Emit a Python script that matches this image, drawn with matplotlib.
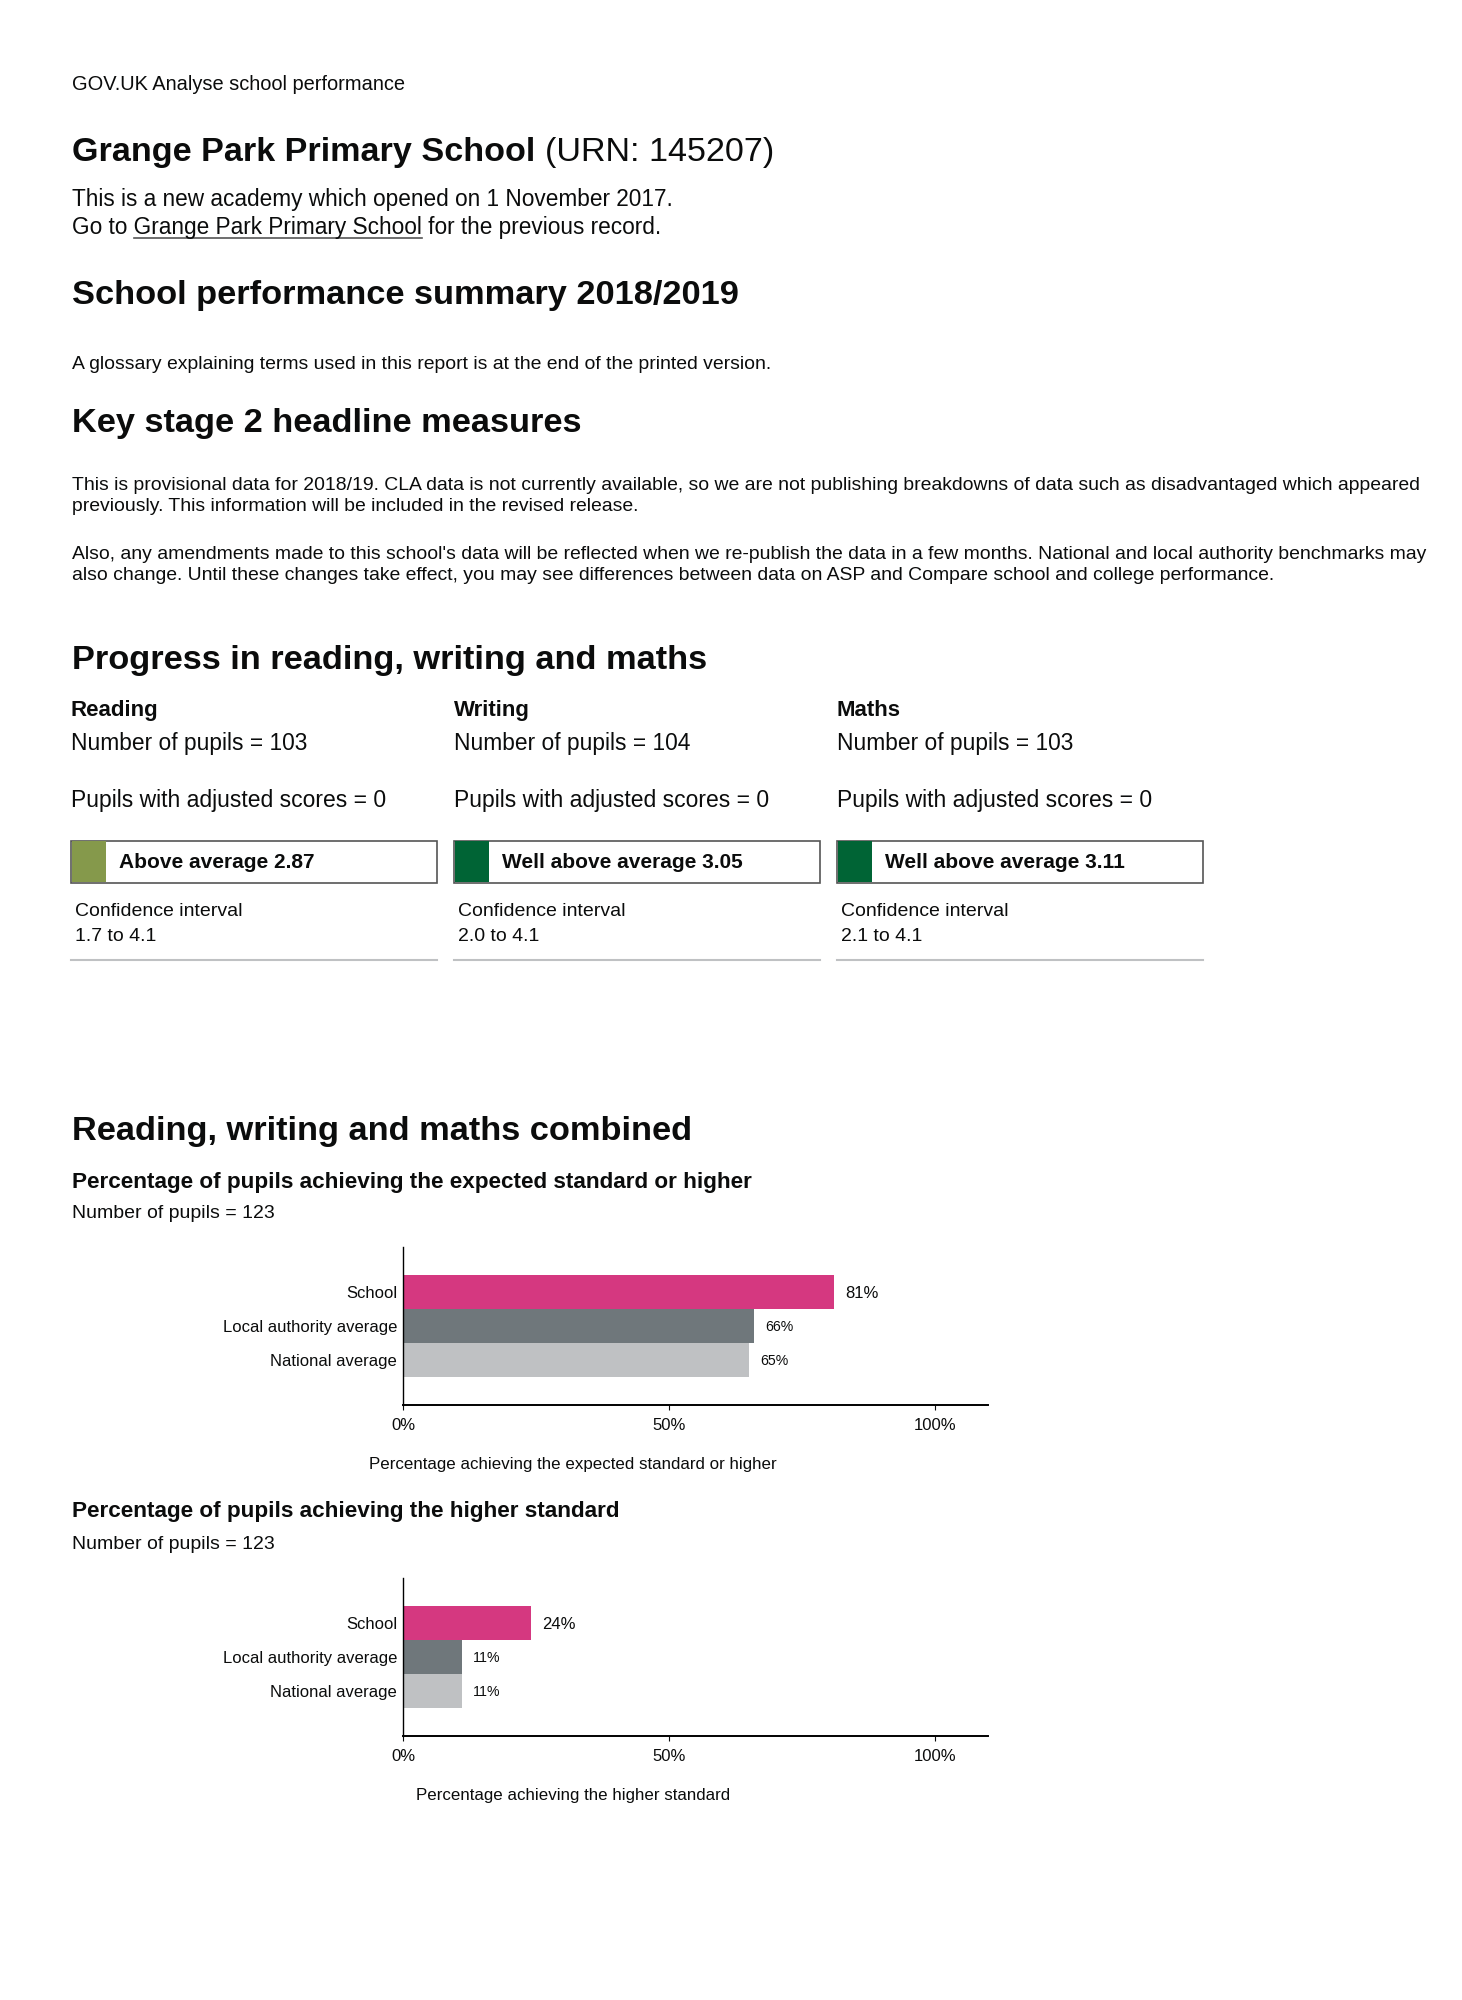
import matplotlib
matplotlib.use('Agg')
import matplotlib.pyplot as plt
from matplotlib.patches import Rectangle
from matplotlib.lines import Line2D

# --- data ---
school_name = 'Grange Park Primary School'
urn = 145207
subjects = ['Reading', 'Writing', 'Maths']
pupils = [103, 104, 103]
adjusted = [0, 0, 0]
bands = ['Above average', 'Well above average', 'Well above average']
scores = [2.87, 3.05, 3.11]
ci_low = [1.7, 2.0, 2.1]
ci_high = [4.1, 4.1, 4.1]
band_colours = {'Above average': '#85994b', 'Well above average': '#006435'}

groups = ['School', 'Local authority average', 'National average']
bar_colours = ['#d53880', '#6f777b', '#bfc1c3']
expected = [81, 66, 65]
higher = [24, 11, 11]
combined_pupils = 123

para1 = ['This is provisional data for 2018/19. CLA data is not currently available, so we are not publishing breakdowns of data such as disadvantaged which appeared',
         'previously. This information will be included in the revised release.']
para2 = ["Also, any amendments made to this school's data will be reflected when we re-publish the data in a few months. National and local authority benchmarks may",
         'also change. Until these changes take effect, you may see differences between data on ASP and Compare school and college performance.']

W, H = 1462, 2000
plt.rcParams['font.family'] = ['Liberation Sans', 'DejaVu Sans']
INK = '#0b0c0c'

fig = plt.figure(figsize=(W / 100, H / 100), dpi=100)
renderer = fig.canvas.get_renderer()


def txt(x, y, s, size, weight='normal', ha='left', color=INK):
    # x, y in pixels from top-left, y is the baseline
    return fig.text(x / W, 1 - y / H, s, fontsize=size, fontweight=weight,
                    ha=ha, va='baseline', color=color)


def text_width(s, size, weight='normal'):
    t = fig.text(0, 0, s, fontsize=size, fontweight=weight)
    w = t.get_window_extent(renderer).width
    t.remove()
    return w


def hline(x0, x1, y, color, lw):
    fig.lines.append(Line2D([x0 / W, x1 / W], [1 - y / H] * 2,
                            transform=fig.transFigure, color=color, lw=lw))


HEAD = 24.75
BODY = 13.92

# header
txt(72, 90, 'GOV.UK Analyse school performance', 14.4)
t = txt(72, 161, school_name, 24.6, 'bold')
x1 = t.get_window_extent(renderer).x1
txt(x1 + 0.278 * 24.6 * 100 / 72, 161, f'(URN: {urn})', 24.6)

txt(72, 206, 'This is a new academy which opened on 1 November 2017.', 16.25)
link_line = f'Go to {school_name} for the previous record.'
txt(72, 234, link_line, 16.25)
ux0 = 72 + text_width('Go to', 16.25) + 0.278 * 16.25 * 100 / 72
ux1 = 72 + text_width(f'Go to {school_name}', 16.25)
hline(ux0, ux1, 238, '#555555', 1.2)

txt(72, 304, 'School performance summary 2018/2019', HEAD, 'bold')
txt(72, 369, 'A glossary explaining terms used in this report is at the end of the printed version.', BODY)
txt(72, 432, 'Key stage 2 headline measures', HEAD, 'bold')
for k, line in enumerate(para1):
    txt(72, 490 + 21 * k, line, BODY)
for k, line in enumerate(para2):
    txt(72, 559 + 21 * k, line, BODY)

# progress section
txt(72, 669, 'Progress in reading, writing and maths', HEAD, 'bold')
col_x = [71, 454, 837]
box_w = 366
for i in range(len(subjects)):
    x = col_x[i]
    txt(x, 716, subjects[i], 16, 'bold')
    txt(x, 750, f'Number of pupils = {pupils[i]}', 16.4)
    txt(x, 807, f'Pupils with adjusted scores = {adjusted[i]}', 16.5)
    fig.patches.append(Rectangle((x / W, 1 - 883 / H), box_w / W, 42 / H,
                                 transform=fig.transFigure, facecolor='white',
                                 edgecolor='#555555', lw=1.2))
    fig.patches.append(Rectangle(((x + 0.5) / W, 1 - 882.5 / H), 34 / W, 41.5 / H,
                                 transform=fig.transFigure,
                                 facecolor=band_colours[bands[i]], edgecolor='none'))
    txt(x + 48, 868, f'{bands[i]} {scores[i]:.2f}', 15, 'bold')
    txt(x + 4, 916, 'Confidence interval', 14)
    txt(x + 4, 941, f'{ci_low[i]:.1f} to {ci_high[i]:.1f}', 14)
    hline(x, x + box_w, 960, '#bfc1c3', 1.5)

# combined section
txt(72, 1140, 'Reading, writing and maths combined', HEAD, 'bold')


def bar_chart(top_px, values, title, title_y, number_y, xlabel, xlabel_y):
    txt(72, title_y, title, 16.2, 'bold')
    txt(72, number_y, f'Number of pupils = {combined_pupils}', 14.0)
    ax = fig.add_axes([403 / W, 1 - (top_px + 158) / H, 585 / W, 158 / H])
    ypos = list(range(len(groups)))
    ax.barh(ypos, values, height=1.0, color=bar_colours)
    ax.set_xlim(0, 110)
    ax.set_ylim(2.5 + 0.82, -0.5 - 0.82)
    ax.set_xticks([0, 50, 100], ['0%', '50%', '100%'])
    ax.set_yticks(ypos, groups)
    ax.tick_params(axis='x', length=3.6, width=0.8, pad=5.5, labelsize=12, colors=INK)
    ax.tick_params(axis='y', length=0, pad=4.3, labelsize=12, colors=INK)
    for s in ['top', 'right']:
        ax.spines[s].set_visible(False)
    ax.spines['left'].set_linewidth(1.0)
    ax.spines['bottom'].set_linewidth(1.4)
    for k, v in enumerate(values):
        size = 12 if k == 0 else 10.2
        cap = 0.716 * size / 2
        ax.annotate(f'{v}%', (v, k), xytext=(8, -cap), textcoords='offset points',
                    fontsize=size, va='baseline', ha='left', color=INK)
    txt(573, xlabel_y, xlabel, 12.2, ha='center')
    return ax


bar_chart(1247, expected, 'Percentage of pupils achieving the expected standard or higher',
          1188, 1218, 'Percentage achieving the expected standard or higher', 1469)
bar_chart(1578, higher, 'Percentage of pupils achieving the higher standard',
          1517, 1549, 'Percentage achieving the higher standard', 1800)

fig.savefig('out.png', dpi=100, facecolor='white')
